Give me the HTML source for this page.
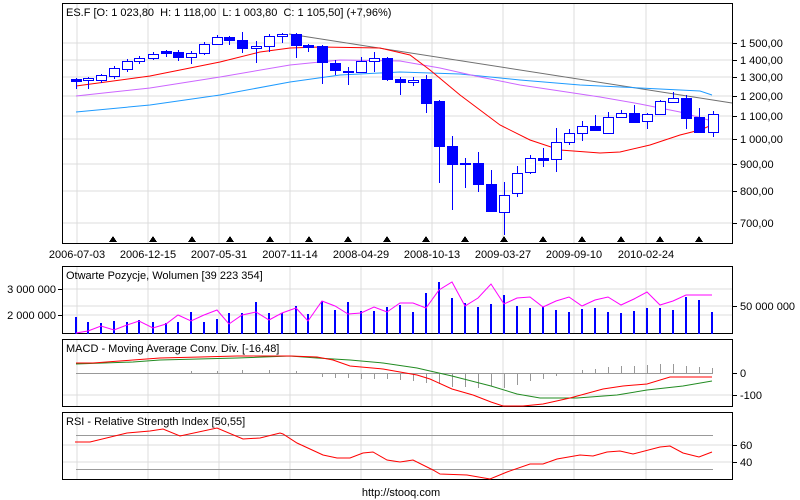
<!DOCTYPE html>
<html><head><meta charset="utf-8"><style>
html,body{margin:0;padding:0;background:#fff;}
svg{display:block;font-family:"Liberation Sans",sans-serif;font-size:11px;}
</style></head><body>
<svg width="800" height="500" viewBox="0 0 800 500" xmlns="http://www.w3.org/2000/svg" shape-rendering="crispEdges">
<rect width="800" height="500" fill="#fff"/>
<g stroke="#dcdcdc" stroke-width="1">
<line x1="77" y1="4" x2="77" y2="244"/><line x1="148" y1="4" x2="148" y2="244"/><line x1="219" y1="4" x2="219" y2="244"/><line x1="290" y1="4" x2="290" y2="244"/><line x1="361" y1="4" x2="361" y2="244"/><line x1="432" y1="4" x2="432" y2="244"/><line x1="503" y1="4" x2="503" y2="244"/><line x1="574" y1="4" x2="574" y2="244"/><line x1="646" y1="4" x2="646" y2="244"/>
<line x1="63" y1="43" x2="732" y2="43"/><line x1="63" y1="60" x2="732" y2="60"/><line x1="63" y1="77" x2="732" y2="77"/><line x1="63" y1="96" x2="732" y2="96"/><line x1="63" y1="116" x2="732" y2="116"/><line x1="63" y1="139" x2="732" y2="139"/><line x1="63" y1="164" x2="732" y2="164"/><line x1="63" y1="191" x2="732" y2="191"/><line x1="63" y1="223" x2="732" y2="223"/>
<line x1="77" y1="267" x2="77" y2="334"/><line x1="148" y1="267" x2="148" y2="334"/><line x1="219" y1="267" x2="219" y2="334"/><line x1="290" y1="267" x2="290" y2="334"/><line x1="361" y1="267" x2="361" y2="334"/><line x1="432" y1="267" x2="432" y2="334"/><line x1="503" y1="267" x2="503" y2="334"/><line x1="574" y1="267" x2="574" y2="334"/><line x1="646" y1="267" x2="646" y2="334"/>
<line x1="63" y1="289" x2="732" y2="289"/><line x1="63" y1="306" x2="732" y2="306"/><line x1="63" y1="315" x2="732" y2="315"/>
<line x1="77" y1="340" x2="77" y2="407"/><line x1="148" y1="340" x2="148" y2="407"/><line x1="219" y1="340" x2="219" y2="407"/><line x1="290" y1="340" x2="290" y2="407"/><line x1="361" y1="340" x2="361" y2="407"/><line x1="432" y1="340" x2="432" y2="407"/><line x1="503" y1="340" x2="503" y2="407"/><line x1="574" y1="340" x2="574" y2="407"/><line x1="646" y1="340" x2="646" y2="407"/>
<line x1="63" y1="395" x2="732" y2="395"/>
<line x1="77" y1="413" x2="77" y2="480"/><line x1="148" y1="413" x2="148" y2="480"/><line x1="219" y1="413" x2="219" y2="480"/><line x1="290" y1="413" x2="290" y2="480"/><line x1="361" y1="413" x2="361" y2="480"/><line x1="432" y1="413" x2="432" y2="480"/><line x1="503" y1="413" x2="503" y2="480"/><line x1="574" y1="413" x2="574" y2="480"/><line x1="646" y1="413" x2="646" y2="480"/>
<line x1="63" y1="445" x2="732" y2="445"/><line x1="63" y1="462" x2="732" y2="462"/>
</g>
<g fill="none" stroke-width="1" shape-rendering="auto">
<polyline stroke="#707070" points="289,34 732,103"/>
<polyline stroke="#1e9bff" points="76,112 150,105 220,95 290,82 340,75 400,72 460,74 520,80 580,85 640,88 700,91 712,95"/>
<polyline stroke="#cc66ff" points="76,96 150,88 220,77 290,65 340,60 400,61 440,68 480,77 520,85 560,91 600,97 640,104 680,112 712,121"/>
<polyline stroke="#ff0000" points="76,86 150,76 220,62 260,52 290,48 320,47 380,48 410,55 430,70 460,95 500,125 530,140 560,150 600,153 620,152 650,145 680,135 700,130 712,125"/>
</g>
<g stroke="#0000ff" stroke-width="1" fill="#0000ff">
<line x1="76.5" y1="78" x2="76.5" y2="89"/><rect x="71.5" y="79.5" width="10" height="2"/>
<line x1="88.5" y1="77" x2="88.5" y2="89"/><rect x="83.5" y="78.5" width="10" height="2" fill="#fff"/>
<line x1="101.5" y1="74" x2="101.5" y2="83"/><rect x="96.5" y="75.5" width="10" height="5" fill="#fff"/>
<line x1="114.5" y1="66" x2="114.5" y2="79"/><rect x="109.5" y="68.5" width="10" height="8" fill="#fff"/>
<line x1="127.5" y1="59" x2="127.5" y2="72"/><rect x="122.5" y="61.5" width="10" height="8" fill="#fff"/>
<line x1="139.5" y1="56" x2="139.5" y2="64"/><rect x="134.5" y="58.5" width="10" height="3" fill="#fff"/>
<line x1="153.5" y1="52" x2="153.5" y2="60"/><rect x="148.5" y="54.5" width="10" height="4" fill="#fff"/>
<line x1="166.5" y1="50" x2="166.5" y2="57"/><rect x="161.5" y="51.5" width="10" height="2"/>
<line x1="178.5" y1="50" x2="178.5" y2="61"/><rect x="173.5" y="52.5" width="10" height="5"/>
<line x1="191.5" y1="51" x2="191.5" y2="64"/><rect x="186.5" y="53.5" width="10" height="4" fill="#fff"/>
<line x1="204.5" y1="42" x2="204.5" y2="55"/><rect x="199.5" y="44.5" width="10" height="9" fill="#fff"/>
<line x1="217.5" y1="35" x2="217.5" y2="45"/><rect x="212.5" y="37.5" width="10" height="7" fill="#fff"/>
<line x1="229.5" y1="36" x2="229.5" y2="45"/><rect x="224.5" y="37.5" width="10" height="3"/>
<line x1="242.5" y1="32" x2="242.5" y2="53"/><rect x="237.5" y="40.5" width="10" height="8"/>
<line x1="256.5" y1="41" x2="256.5" y2="63"/><rect x="251.5" y="46.5" width="10" height="2" fill="#fff"/>
<line x1="269.5" y1="34" x2="269.5" y2="52"/><rect x="264.5" y="36.5" width="10" height="10" fill="#fff"/>
<line x1="282.5" y1="33" x2="282.5" y2="43"/><rect x="277.5" y="34.5" width="10" height="2" fill="#fff"/>
<line x1="296.5" y1="33" x2="296.5" y2="58"/><rect x="291.5" y="34.5" width="10" height="11"/>
<line x1="308.5" y1="44" x2="308.5" y2="52"/><rect x="303.5" y="45.5" width="10" height="2"/>
<line x1="322.5" y1="45" x2="322.5" y2="84"/><rect x="317.5" y="46.5" width="10" height="16"/>
<line x1="335.5" y1="60" x2="335.5" y2="75"/><rect x="330.5" y="63.5" width="10" height="7"/>
<line x1="348.5" y1="67" x2="348.5" y2="85"/><rect x="343.5" y="71.5" width="10" height="1"/>
<line x1="361.5" y1="57" x2="361.5" y2="73"/><rect x="356.5" y="61.5" width="10" height="11" fill="#fff"/>
<line x1="374.5" y1="52" x2="374.5" y2="72"/><rect x="369.5" y="58.5" width="10" height="3" fill="#fff"/>
<line x1="387.5" y1="57" x2="387.5" y2="81"/><rect x="382.5" y="58.5" width="10" height="21"/>
<line x1="400.5" y1="77" x2="400.5" y2="95"/><rect x="395.5" y="79.5" width="10" height="3"/>
<line x1="413.5" y1="77" x2="413.5" y2="86"/><rect x="408.5" y="80.5" width="10" height="2" fill="#fff"/>
<line x1="426.5" y1="75" x2="426.5" y2="113"/><rect x="421.5" y="79.5" width="10" height="24"/>
<line x1="439.5" y1="100" x2="439.5" y2="183"/><rect x="434.5" y="101.5" width="10" height="45"/>
<line x1="452.5" y1="136" x2="452.5" y2="210"/><rect x="447.5" y="146.5" width="10" height="18"/>
<line x1="465.5" y1="158" x2="465.5" y2="188"/><rect x="460.5" y="163.5" width="10" height="1"/>
<line x1="478.5" y1="152" x2="478.5" y2="192"/><rect x="473.5" y="163.5" width="10" height="21"/>
<line x1="491.5" y1="170" x2="491.5" y2="212"/><rect x="486.5" y="184.5" width="10" height="27"/>
<line x1="504.5" y1="182" x2="504.5" y2="235"/><rect x="499.5" y="195.5" width="10" height="17" fill="#fff"/>
<line x1="517.5" y1="166" x2="517.5" y2="197"/><rect x="512.5" y="173.5" width="10" height="20" fill="#fff"/>
<line x1="530.5" y1="155" x2="530.5" y2="174"/><rect x="525.5" y="158.5" width="10" height="14" fill="#fff"/>
<line x1="543.5" y1="148" x2="543.5" y2="167"/><rect x="538.5" y="158.5" width="10" height="2"/>
<line x1="556.5" y1="128" x2="556.5" y2="172"/><rect x="551.5" y="142.5" width="10" height="17" fill="#fff"/>
<line x1="569.5" y1="129" x2="569.5" y2="145"/><rect x="564.5" y="133.5" width="10" height="9" fill="#fff"/>
<line x1="582.5" y1="121" x2="582.5" y2="141"/><rect x="577.5" y="126.5" width="10" height="7" fill="#fff"/>
<line x1="595.5" y1="115" x2="595.5" y2="131"/><rect x="590.5" y="126.5" width="10" height="4"/>
<line x1="608.5" y1="112" x2="608.5" y2="133"/><rect x="603.5" y="117.5" width="10" height="16" fill="#fff"/>
<line x1="621.5" y1="110" x2="621.5" y2="118"/><rect x="616.5" y="113.5" width="10" height="4" fill="#fff"/>
<line x1="634.5" y1="105" x2="634.5" y2="123"/><rect x="629.5" y="113.5" width="10" height="9"/>
<line x1="647.5" y1="113" x2="647.5" y2="129"/><rect x="642.5" y="114.5" width="10" height="7" fill="#fff"/>
<line x1="660.5" y1="100" x2="660.5" y2="115"/><rect x="655.5" y="101.5" width="10" height="13" fill="#fff"/>
<line x1="673.5" y1="92" x2="673.5" y2="103"/><rect x="668.5" y="98.5" width="10" height="4" fill="#fff"/>
<line x1="686.5" y1="95" x2="686.5" y2="129"/><rect x="681.5" y="98.5" width="10" height="20"/>
<line x1="699.5" y1="108" x2="699.5" y2="133"/><rect x="694.5" y="117.5" width="10" height="15"/>
<line x1="713.5" y1="111" x2="713.5" y2="137"/><rect x="708.5" y="114.5" width="10" height="18" fill="#fff"/>
</g>
<g fill="#000">
<polygon points="113,236 109,242 117,242"/><polygon points="153,236 149,242 157,242"/><polygon points="192,236 188,242 196,242"/><polygon points="230,236 226,242 234,242"/><polygon points="270,236 266,242 274,242"/><polygon points="309,236 305,242 313,242"/><polygon points="348,236 344,242 352,242"/><polygon points="387,236 383,242 391,242"/><polygon points="426,236 422,242 430,242"/><polygon points="465,236 461,242 469,242"/><polygon points="504,236 500,242 508,242"/><polygon points="543,236 539,242 547,242"/><polygon points="582,236 578,242 586,242"/><polygon points="621,236 617,242 625,242"/><polygon points="660,236 656,242 664,242"/><polygon points="699,236 695,242 703,242"/>
</g>
<g fill="none" stroke="#000" stroke-width="1">
<rect x="62.5" y="3.5" width="670" height="240"/>
<rect x="62.5" y="266.5" width="670" height="67"/>
<rect x="62.5" y="339.5" width="670" height="67"/>
<rect x="62.5" y="412.5" width="670" height="67"/>
</g>
<g stroke="#000">
<line x1="733" y1="43.5" x2="737" y2="43.5"/><line x1="733" y1="60.5" x2="737" y2="60.5"/><line x1="733" y1="77.5" x2="737" y2="77.5"/><line x1="733" y1="96.5" x2="737" y2="96.5"/><line x1="733" y1="116.5" x2="737" y2="116.5"/><line x1="733" y1="139.5" x2="737" y2="139.5"/><line x1="733" y1="164.5" x2="737" y2="164.5"/><line x1="733" y1="191.5" x2="737" y2="191.5"/><line x1="733" y1="223.5" x2="737" y2="223.5"/>
<line x1="733" y1="306.5" x2="737" y2="306.5"/><line x1="733" y1="373.5" x2="737" y2="373.5"/><line x1="733" y1="395.5" x2="737" y2="395.5"/><line x1="733" y1="445.5" x2="737" y2="445.5"/><line x1="733" y1="462.5" x2="737" y2="462.5"/>
<line x1="58" y1="289.5" x2="62" y2="289.5"/><line x1="58" y1="315.5" x2="62" y2="315.5"/>
</g>
<g stroke="#0000ff" stroke-width="2">
<line x1="76" y1="317" x2="76" y2="334"/><line x1="88" y1="322" x2="88" y2="334"/><line x1="101" y1="323" x2="101" y2="334"/><line x1="114" y1="321" x2="114" y2="334"/><line x1="127" y1="322" x2="127" y2="334"/><line x1="139" y1="320" x2="139" y2="334"/><line x1="153" y1="322" x2="153" y2="334"/><line x1="166" y1="323" x2="166" y2="334"/><line x1="178" y1="322" x2="178" y2="334"/><line x1="191" y1="312" x2="191" y2="334"/><line x1="204" y1="322" x2="204" y2="334"/><line x1="217" y1="319" x2="217" y2="334"/><line x1="229" y1="313" x2="229" y2="334"/><line x1="242" y1="313" x2="242" y2="334"/><line x1="256" y1="302" x2="256" y2="334"/><line x1="269" y1="313" x2="269" y2="334"/><line x1="282" y1="313" x2="282" y2="334"/><line x1="296" y1="306" x2="296" y2="334"/><line x1="308" y1="314" x2="308" y2="334"/><line x1="322" y1="301" x2="322" y2="334"/><line x1="335" y1="310" x2="335" y2="334"/><line x1="348" y1="302" x2="348" y2="334"/><line x1="361" y1="311" x2="361" y2="334"/><line x1="374" y1="311" x2="374" y2="334"/><line x1="387" y1="307" x2="387" y2="334"/><line x1="400" y1="305" x2="400" y2="334"/><line x1="413" y1="312" x2="413" y2="334"/><line x1="426" y1="293" x2="426" y2="334"/>
<line x1="439" y1="282" x2="439" y2="334"/><line x1="452" y1="298" x2="452" y2="334"/><line x1="465" y1="303" x2="465" y2="334"/><line x1="478" y1="307" x2="478" y2="334"/><line x1="491" y1="304" x2="491" y2="334"/><line x1="504" y1="295" x2="504" y2="334"/><line x1="517" y1="306" x2="517" y2="334"/><line x1="530" y1="308" x2="530" y2="334"/><line x1="543" y1="307" x2="543" y2="334"/><line x1="556" y1="310" x2="556" y2="334"/><line x1="569" y1="312" x2="569" y2="334"/><line x1="582" y1="309" x2="582" y2="334"/><line x1="595" y1="308" x2="595" y2="334"/><line x1="608" y1="312" x2="608" y2="334"/><line x1="621" y1="313" x2="621" y2="334"/><line x1="634" y1="311" x2="634" y2="334"/><line x1="647" y1="308" x2="647" y2="334"/><line x1="660" y1="308" x2="660" y2="334"/><line x1="673" y1="310" x2="673" y2="334"/><line x1="686" y1="297" x2="686" y2="334"/><line x1="699" y1="300" x2="699" y2="334"/><line x1="712" y1="312" x2="712" y2="334"/>
</g>
<polyline fill="none" stroke="#ff00ff" shape-rendering="auto" points="76,333 88,331 101,326 114,330 127,325 139,321 153,328 166,324 178,315 191,321 204,315 217,310 229,324 242,315 256,312 269,320 282,313 296,308 308,321 322,301 335,306 348,314 361,313 374,307 387,312 400,303 413,303 426,308 439,290 452,282 465,306 478,298 491,284 504,304 517,298 530,297 543,307 556,301 569,297 582,306 595,300 608,297 621,305 634,299 647,292 660,305 673,301 686,295 712,295"/>
<line x1="76" y1="373.5" x2="713" y2="373.5" stroke="#999"/>
<g stroke="#999">
<line x1="191.5" y1="371" x2="191.5" y2="373"/><line x1="217.5" y1="371" x2="217.5" y2="373"/><line x1="242.5" y1="370" x2="242.5" y2="373"/><line x1="269.5" y1="370" x2="269.5" y2="373"/><line x1="296.5" y1="371" x2="296.5" y2="373"/>
<line x1="322.5" y1="374" x2="322.5" y2="377"/><line x1="335.5" y1="374" x2="335.5" y2="378"/><line x1="348.5" y1="374" x2="348.5" y2="378"/><line x1="361.5" y1="374" x2="361.5" y2="379"/><line x1="374.5" y1="374" x2="374.5" y2="379"/><line x1="387.5" y1="374" x2="387.5" y2="379"/><line x1="400.5" y1="374" x2="400.5" y2="380"/><line x1="413.5" y1="374" x2="413.5" y2="381"/><line x1="426.5" y1="374" x2="426.5" y2="383"/>
<line x1="439.5" y1="374" x2="439.5" y2="384"/><line x1="452.5" y1="374" x2="452.5" y2="387"/><line x1="465.5" y1="374" x2="465.5" y2="387"/><line x1="478.5" y1="374" x2="478.5" y2="388"/><line x1="491.5" y1="374" x2="491.5" y2="386"/><line x1="504.5" y1="374" x2="504.5" y2="388"/><line x1="517.5" y1="374" x2="517.5" y2="385"/><line x1="530.5" y1="374" x2="530.5" y2="381"/><line x1="543.5" y1="374" x2="543.5" y2="379"/><line x1="556.5" y1="374" x2="556.5" y2="376"/>
<line x1="582.5" y1="370" x2="582.5" y2="373"/><line x1="595.5" y1="369" x2="595.5" y2="373"/><line x1="608.5" y1="367" x2="608.5" y2="373"/><line x1="621.5" y1="366" x2="621.5" y2="373"/><line x1="634.5" y1="366" x2="634.5" y2="373"/><line x1="647.5" y1="365" x2="647.5" y2="373"/><line x1="660.5" y1="364" x2="660.5" y2="373"/><line x1="673.5" y1="364" x2="673.5" y2="373"/><line x1="686.5" y1="366" x2="686.5" y2="373"/><line x1="699.5" y1="367" x2="699.5" y2="373"/><line x1="712.5" y1="368" x2="712.5" y2="373"/>
</g>
<g fill="none" shape-rendering="auto">
<polyline stroke="#228b22" points="76,364 133,362 160,360 237,358 290,356 317,358 350,360 383,363 417,368 430,371 452,376 491,386 517,394 540,398 577,398 617,395 647,390 683,386 712,381"/>
<polyline stroke="#ff0000" points="76,363 93,363 133,360 160,358 200,357 237,356 290,356 317,357 333,360 350,366 383,369 417,375 430,379 452,389 473,395 491,402 503,406 523,406 543,404 570,398 603,389 623,386 647,384 670,377 712,377"/>
</g>
<line x1="76" y1="435.5" x2="713" y2="435.5" stroke="#999"/>
<line x1="76" y1="469.5" x2="713" y2="469.5" stroke="#999"/>
<polyline fill="none" stroke="#ff0000" shape-rendering="auto" points="75,442 90,442 127,433 150,431 163,429 180,436 217,428 243,439 260,438 280,433 283,434 297,443 323,455 337,458 350,458 363,453 373,452 387,460 400,462 413,460 433,470 440,474 467,475 490,479 507,472 530,464 543,464 557,459 580,455 593,456 607,452 620,451 633,454 660,447 670,446 683,453 699,457 712,452"/>
<g fill="#000">
<text x="66" y="16">ES.F [O: 1 023,80&#160;&#160;H: 1 118,00&#160;&#160;L: 1 003,80&#160;&#160;C: 1 105,50] (+7,96%)</text>
<text x="66" y="279">Otwarte Pozycje, Wolumen [39 223 354]</text>
<text x="66" y="352">MACD - Moving Average Conv. Div. [-16,48]</text>
<text x="66" y="425">RSI - Relative Strength Index [50,55]</text>
<text x="740" y="47">1 500,00</text><text x="740" y="64">1 400,00</text><text x="740" y="81">1 300,00</text><text x="740" y="100">1 200,00</text><text x="740" y="120">1 100,00</text><text x="740" y="143">1 000,00</text><text x="740" y="168">900,00</text><text x="740" y="195">800,00</text><text x="740" y="227">700,00</text>
<text x="740" y="310">50 000 000</text>
<text x="740" y="377">0</text><text x="740" y="399">-100</text>
<text x="740" y="449">60</text><text x="740" y="466">40</text>
<text x="56" y="293" text-anchor="end">3 000 000</text><text x="56" y="319" text-anchor="end">2 000 000</text>
<g text-anchor="middle">
<text x="77" y="258">2006-07-03</text><text x="148" y="258">2006-12-15</text><text x="219" y="258">2007-05-31</text><text x="290" y="258">2007-11-14</text><text x="361" y="258">2008-04-29</text><text x="432" y="258">2008-10-13</text><text x="503" y="258">2009-03-27</text><text x="574" y="258">2009-09-10</text><text x="646" y="258">2010-02-24</text>
<text x="401" y="496">http://stooq.com</text>
</g>
</g>
</svg>
</body></html>
